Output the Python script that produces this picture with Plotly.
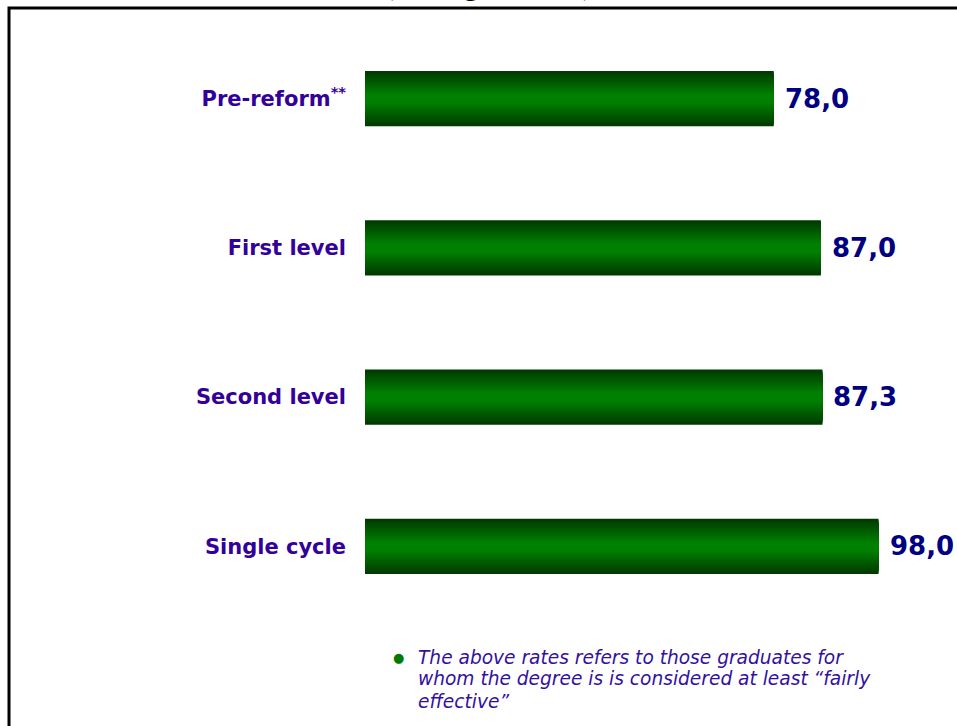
import plotly.graph_objs as go

# data
levels = ["Pre-reform<sup>**</sup>", "First level", "Second level", "Single cycle"]
rates = [78.0, 87.0, 87.3, 98.0]
note_lines = [
    "The above rates refers to those graduates for",
    "whom the degree is is considered at least \u201cfairly",
    "effective\u201d",
]
top_text = "(average values)"

W, H = 957, 726
ml, mr, mt, mb = 365, 15, 24, 105
pw, ph = W - ml - mr, H - mt - mb


def px_x(px):
    return (px - ml) / pw


def px_y(py):
    return (mt + ph - py) / ph


fig = go.Figure()

# fake the vertical gradient with overlaid bars of shrinking width
n = 16
for i in range(n):
    f = 1 - i * 0.055
    g = int(0x3a + (0x80 - 0x3a) * i / (n - 1))
    fig.add_trace(go.Bar(
        y=levels, x=rates, orientation="h",
        width=0.37 * f,
        marker=dict(color="rgb(0,%d,0)" % g, line=dict(width=0)),
        hoverinfo="skip" if i else "x+y",
        showlegend=False,
    ))

# value labels to the right of each bar (italian style decimal comma)
for lab, v in zip(levels, rates):
    fig.add_annotation(
        x=v, y=lab, xref="x", yref="y",
        text=("%.1f" % v).replace(".", ","), xanchor="left", xshift=9,
        showarrow=False,
        font=dict(family="DejaVu Sans", size=26, color="#000080", weight="bold"),
    )

# footnote with bullet
fig.add_annotation(
    x=px_x(398), y=px_y(657), xref="paper", yref="paper",
    text="\u25cf", showarrow=False, xanchor="center", yanchor="middle",
    font=dict(family="DejaVu Sans", size=13, color="#007a00"),
)
for k, line in enumerate(note_lines):
    fig.add_annotation(
        x=px_x(416), y=px_y(657 + 22 * k), xref="paper", yref="paper",
        text="<i>%s</i>" % line, showarrow=False,
        xanchor="left", yanchor="middle", align="left",
        font=dict(family="DejaVu Sans", size=18.6, color="#3311a0"),
    )

# title of the slide, mostly cut off at the top edge
fig.add_annotation(
    x=px_x(488), y=px_y(3), xref="paper", yref="paper",
    text=top_text, showarrow=False, xanchor="center", yanchor="bottom",
    font=dict(family="Liberation Serif", size=32, color="#000000"),
)

# frame: left and top edges, running off the page
fig.add_shape(
    type="path", xref="paper", yref="paper",
    path="M %f %f L %f %f L %f %f" % (
        px_x(9), px_y(760), px_x(9), px_y(8), px_x(990), px_y(8)),
    line=dict(color="black", width=3),
)

fig.update_layout(
    width=W, height=H,
    margin=dict(l=ml, r=mr, t=mt, b=mb),
    barmode="overlay",
    plot_bgcolor="white", paper_bgcolor="white",
    xaxis=dict(range=[0, pw / 5.24], visible=False),
    yaxis=dict(
        range=[3.5, -0.5], showgrid=False, zeroline=False, showline=False,
        ticks="", ticklabelstandoff=18,
        tickfont=dict(family="DejaVu Sans", size=21, color="#330099", weight="bold"),
    ),
)

# drop the default page margin so the figure sits at the window corner
fig.write_html(
    "out.html",
    config={"displayModeBar": False},
    post_script="document.body.style.margin='0';document.body.style.overflow='hidden';",
)
